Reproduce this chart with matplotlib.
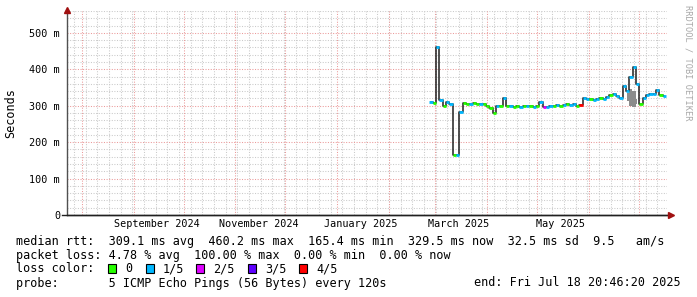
import matplotlib
matplotlib.use("Agg")
import matplotlib.pyplot as plt
import matplotlib.transforms as mtransforms
from matplotlib.patches import Rectangle
import pandas as pd

W, H = 697, 297

# time range of the graph (smokeping "last 360 days")
end_time = pd.Timestamp("2025-07-18 20:46:20")
start_time = end_time - pd.Timedelta(days=360)

# median rtt in ms, one sample every 2 days from first_sample
first_sample = "2025-02-27 06:00"
median_ms = [310, 308, 460, 316, 300, 310, 306, 165, 165, 282, 308, 306,
             305, 307, 304, 305, 306, 300, 293, 280, 298, 300, 322, 300,
             298, 297, 299, 296, 300, 298, 299, 297, 300, 310, 297, 296,
             298, 300, 303, 299, 302, 305, 303, 306, 300, 302, 322, 318,
             318, 316, 318, 320, 318, 325, 330, 333, 328, 322, 355, 340,
             380, 405, 360, 305, 320, 330, 332, 331, 342, 330, 328]
# lost pings out of 5 for each sample
loss = [1, 0, 1, 1, 0, 1, 1, 0, 1, 1, 0, 0,
        1, 0, 0, 1, 0, 0, 0, 0, 1, 0, 1, 0,
        1, 0, 0, 1, 0, 1, 0, 1, 0, 1, 2, 1,
        1, 0, 1, 0, 1, 0, 1, 1, 0, 4, 1, 1,
        0, 1, 1, 0, 1, 1, 0, 1, 1, 1, 1, 1,
        1, 1, 1, 0, 1, 1, 1, 1, 1, 0, 1]

# smoke (spread of the pings) where it shows
smoke_dates = ["2025-06-25", "2025-06-27", "2025-06-29", "2025-07-01"]
smoke_lo = [312, 300, 296, 305]
smoke_hi = [335, 345, 340, 318]

loss_labels = ["0", "1/5", "2/5", "3/5", "4/5"]
loss_colors = ["#26ff00", "#00b8ff", "#dd00ff", "#5e00ff", "#ff0000"]

y_ticks = [0, 100, 200, 300, 400, 500]
y_tick_labels = ["0", "100 m", "200 m", "300 m", "400 m", "500 m"]
month_labels = ["September 2024", "November 2024", "January 2025",
                "March 2025", "May 2025"]
month_label_dates = ["2024-09-16", "2024-11-16", "2025-01-16",
                     "2025-03-16", "2025-05-16"]

rtt_line = ("median rtt:  309.1 ms avg  460.2 ms max  165.4 ms min  "
            "329.5 ms now  32.5 ms sd  9.5   am/s")
loss_line = "packet loss: 4.78 % avg  100.00 % max  0.00 % min  0.00 % now"
probe_line = "probe:       5 ICMP Echo Pings (56 Bytes) every 120s"
end_line = "end: Fri Jul 18 20:46:20 2025"


def main():
    plt.rcParams['font.family'] = ['DejaVu Sans Mono']
    fig = plt.figure(figsize=(W / 100, H / 100), dpi=100, facecolor="white")
    ax = fig.add_axes([67 / W, (H - 215) / H, 600 / W, 204 / H])
    ax.set_facecolor("white")

    ymax = 560
    ax.set_xlim(start_time, end_time)
    ax.set_ylim(0, ymax)

    dots = (0, (1, 1.5))
    # horizontal grid
    for v in range(20, ymax + 1, 20):
        if v % 100 == 0:
            ax.axhline(v, color="#eb9a9a", lw=0.75, ls=dots, zorder=1)
        else:
            ax.axhline(v, color="#cacaca", lw=0.75, ls=dots, zorder=0)
    # vertical grid: weeks and months
    for d in pd.date_range(start_time, end_time, freq="W-SUN").normalize():
        ax.axvline(d, color="#cacaca", lw=0.75, ls=dots, zorder=0)
    for d in pd.date_range(start_time, end_time, freq="MS"):
        ax.axvline(d, color="#eb9a9a", lw=0.75, ls=dots, zorder=1)

    dates = pd.date_range(first_sample, periods=len(median_ms), freq="2D")
    half = pd.Timedelta(days=1)

    # smoke
    sd = pd.to_datetime(smoke_dates)
    ax.fill_between(sd, smoke_lo, smoke_hi, step="mid", color="#8c8c8c",
                    lw=0, zorder=2)

    # median line
    ax.step(dates, median_ms, where="mid", color="#202020", lw=1.1, zorder=3)
    # loss coloured dashes
    cols = [loss_colors[k] for k in loss]
    ax.hlines(median_ms, dates - half, dates + half, colors=cols, lw=2.0,
              zorder=4)

    # axes style
    for s in ["top", "right"]:
        ax.spines[s].set_visible(False)
    ax.spines["left"].set_color("#505050")
    ax.spines["bottom"].set_color("#202020")
    ax.spines["left"].set_linewidth(1.0)
    ax.spines["bottom"].set_linewidth(1.0)
    ax.plot([-0.008, 1.004], [0, 0], transform=ax.transAxes, color="#202020",
            lw=1.0, clip_on=False, zorder=5)

    ax.set_yticks(y_ticks)
    ax.set_yticklabels(y_tick_labels)
    ax.set_xticks(pd.to_datetime(month_label_dates))
    ax.set_xticklabels(month_labels)
    ax.tick_params(axis="y", length=0, pad=5, labelsize=7.3)
    ax.tick_params(axis="x", length=0, pad=3, labelsize=7.3)

    # arrows at the ends of the axes
    up = mtransforms.offset_copy(ax.transAxes, fig=fig, x=0, y=1, units="dots")
    ax.plot([0], [1], marker="^", ms=4.5, color="#a01010", transform=up,
            clip_on=False, zorder=6)
    right = mtransforms.offset_copy(ax.transAxes, fig=fig, x=4, y=0, units="dots")
    ax.plot([1], [0], marker=">", ms=4.5, color="#a01010", transform=right,
            clip_on=False, zorder=6)

    def ftext(x, y, s, **kw):
        fig.text(x / W, 1 - y / H, s, va="center", fontsize=8.5, **kw)

    ftext(11, 113, "Seconds", rotation=90, ha="center")
    fig.text(688 / W, 1 - 5 / H, "RRDTOOL / TOBI OETIKER", rotation=270,
             ha="center", va="top", fontsize=6.2, color="#a8a8a8")

    ftext(16, 241, rtt_line)
    ftext(16, 255, loss_line)
    ftext(16, 269, "loss color:")
    box_x = [108, 146, 196, 248, 299]
    for bx, lab, col in zip(box_x, loss_labels, loss_colors):
        fig.add_artist(Rectangle((bx / W, 1 - 273 / H), 8 / W, 9 / H,
                                 transform=fig.transFigure, facecolor=col,
                                 edgecolor="black", lw=0.8))
        ftext(bx + 17, 269, lab)
    ftext(16, 283, probe_line)
    ftext(681, 283, end_line, ha="right")

    fig.savefig("out.png", dpi=100, facecolor="white")


if __name__ == "__main__":
    main()
